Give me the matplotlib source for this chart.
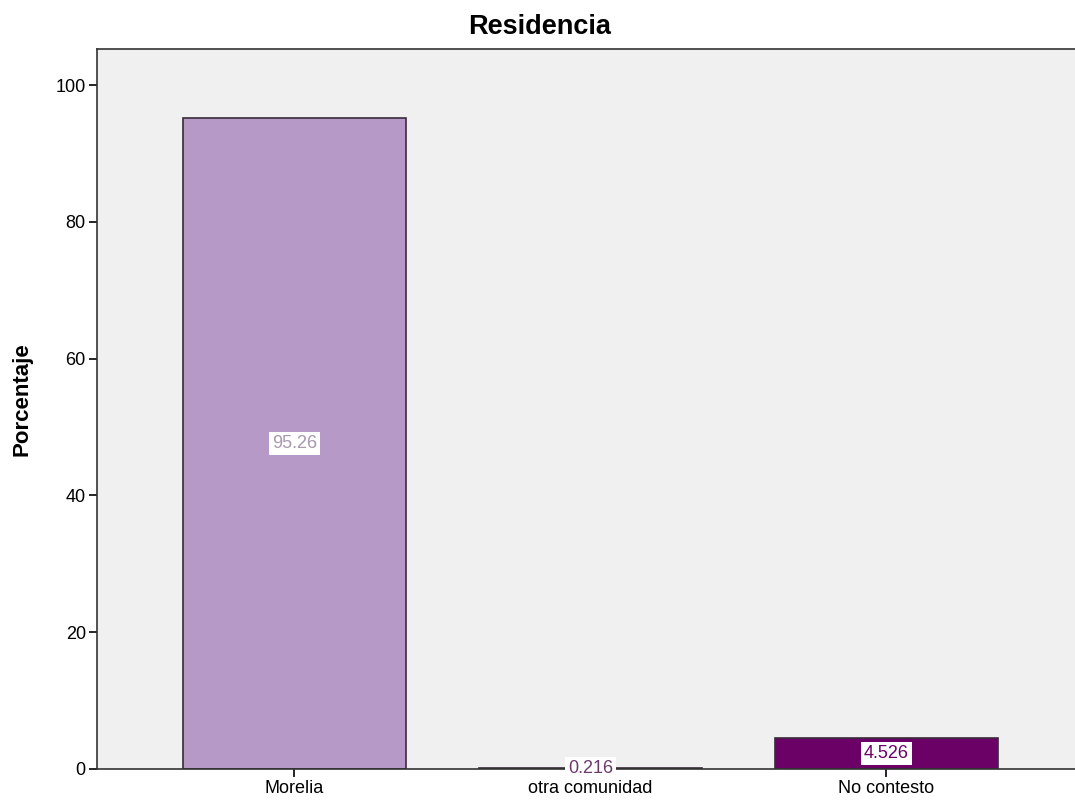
import matplotlib
matplotlib.use("Agg")
import matplotlib.pyplot as plt
import numpy as np

# data
categories = ["Morelia", "otra comunidad", "No contesto"]
values = [95.26, 0.216, 4.526]
labels = ["95.26", "0.216", "4.526"]
colors = ["#b799c8", "#2a1a2a", "#6b0066"]
label_colors = ["#a898b0", "#6b3a6b", "#6b0066"]

plt.rcParams["font.family"] = ["Liberation Sans", "DejaVu Sans"]

fig = plt.figure(figsize=(10.75, 8.07), dpi=100)
ax = fig.add_axes([0.0902, 0.0471, 0.9098, 0.8922])
ax.set_facecolor("#f0f0f0")

x = np.arange(len(categories))
ax.bar(x, values, width=0.754, color=colors, edgecolor="#3a2a3a", linewidth=1.2)

for xi, v, lab, lc in zip(x, values, labels, label_colors):
    ax.text(xi, v / 2, lab, ha="center", va="center", fontsize=13, color=lc,
            bbox=dict(facecolor="white", edgecolor="none", pad=2))

ax.set_xlim(-0.667, 2.637)
ax.set_ylim(0, 105.3)
ax.set_yticks([0, 20, 40, 60, 80, 100])
ax.set_xticks(x)
ax.set_xticklabels(categories, fontsize=13)
ax.tick_params(axis="y", labelsize=13, length=6, width=1.2, pad=2)
ax.tick_params(axis="x", length=6, width=1.2, pad=2)
for s in ["left", "top", "bottom"]:
    ax.spines[s].set_linewidth(1.2)
    ax.spines[s].set_color("#333333")
ax.spines["right"].set_visible(False)

fig.text(22 / 1075, 0.5056, "Porcentaje", rotation=90, ha="center", va="center",
         fontsize=16, fontweight="bold")
fig.text(0.502, 0.967, "Residencia", ha="center", va="center",
         fontsize=19.5, fontweight="bold")

fig.savefig("out.png", dpi=100)
